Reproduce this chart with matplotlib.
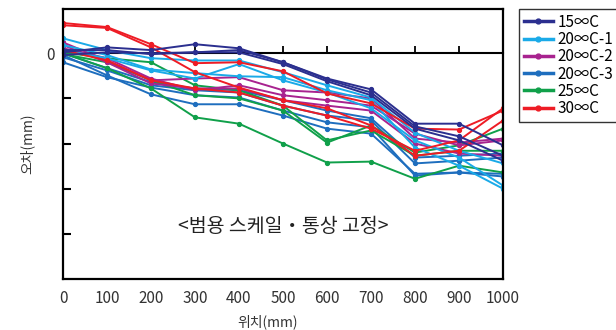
import matplotlib.pyplot as plt
from matplotlib.lines import Line2D

plt.rcParams['font.family'] = ['Noto Sans CJK KR', 'DejaVu Sans']

# positions (mm)
x = [0, 100, 200, 300, 400, 500, 600, 700, 800, 900, 1000]

# error readings, several runs per condition (y tick spacing = 1 unit)
t15 = [
    [0.02, 0.13, 0.07, 0.20, 0.11, -0.20, -0.56, -0.80, -1.56, -1.56, -2.04],
    [-0.04, 0.02, 0.00, 0.02, 0.07, -0.20, -0.58, -0.87, -1.62, -1.84, -2.27],
    [0.07, 0.07, -0.02, 0.02, 0.02, -0.24, -0.62, -0.93, -1.67, -1.93, -2.38],
]
t20_1 = [
    [0.33, 0.07, -0.11, -0.16, -0.16, -0.42, -0.71, -0.98, -1.76, -2.16, -2.44],
    [0.18, -0.04, -0.36, -0.44, -0.51, -0.53, -0.82, -1.04, -2.09, -2.49, -3.00],
    [0.07, -0.11, -0.38, -0.56, -0.24, -0.60, -0.87, -1.22, -1.93, -2.31, -2.93],
]
t20_2 = [
    [0.24, -0.16, -0.60, -0.56, -0.53, -0.82, -0.87, -1.00, -1.89, -1.98, -1.89],
    [0.18, -0.20, -0.67, -0.78, -0.78, -1.04, -1.16, -1.27, -2.00, -2.22, -2.27],
    [0.11, -0.11, -0.56, -0.82, -0.71, -0.93, -1.04, -1.16, -1.78, -2.04, -1.93],
]
t20_3 = [
    [-0.04, -0.49, -0.91, -1.13, -1.13, -1.38, -1.67, -1.78, -2.67, -2.64, -2.67],
    [-0.20, -0.53, -0.76, -0.93, -0.98, -1.27, -1.53, -1.64, -2.71, -2.64, -2.73],
    [-0.09, -0.38, -0.71, -0.82, -0.87, -1.16, -1.38, -1.49, -2.44, -2.38, -2.31],
    [0.00, -0.33, -0.64, -0.78, -0.82, -1.04, -1.27, -1.44, -2.31, -2.27, -2.22],
]
t25 = [
    [0.00, -0.33, -0.78, -1.42, -1.56, -2.00, -2.42, -2.40, -2.78, -2.49, -2.64],
    [-0.02, -0.20, -0.60, -0.93, -1.00, -1.27, -1.98, -1.60, -2.20, -2.04, -1.67],
    [0.02, -0.11, -0.20, -0.71, -0.82, -1.16, -1.93, -1.71, -2.27, -2.16, -2.16],
]
t30 = [
    [0.67, 0.58, 0.20, -0.22, -0.20, -0.40, -0.89, -1.11, -1.67, -1.69, -1.27],
    [0.62, 0.56, 0.13, -0.42, -0.76, -1.04, -1.22, -1.60, -2.27, -2.16, -1.49],
    [0.07, -0.16, -0.60, -0.78, -0.87, -1.16, -1.38, -1.67, -2.16, -1.93, -1.22],
]

labels = ['15∞C', '20∞C-1', '20∞C-2', '20∞C-3', '25∞C', '30∞C']
colors = ['#2B2F8F', '#1AAAE8', '#A8238F', '#1E6EBE', '#10A04A', '#EE1C25']
groups = [t15, t20_1, t20_2, t20_3, t25, t30]

fig = plt.figure(figsize=(6.16, 3.30), dpi=100)
ax = fig.add_axes([63/616, 1 - 279/330, 440/616, 270/330])

# draw back to front
order = [3, 4, 2, 1, 5, 0]
for i in order:
    for run in groups[i]:
        ax.plot(x, run, color=colors[i], lw=1.4, marker='o', ms=2.8)

ax.set_xlim(0, 1000)
ax.set_ylim(-5, 0.98)
ax.set_xticks(x)
ax.set_xticklabels([str(v) for v in x], fontsize=11, color='#333333')
ax.tick_params(axis='x', length=0, pad=8)
ax.set_yticks([0, -1, -2, -3, -4])
ax.set_yticklabels(['0', '', '', '', ''], fontsize=11, color='#333333')
ax.tick_params(axis='y', direction='in', length=6, width=1.5, pad=6)
for s in ax.spines.values():
    s.set_linewidth(1.6)

# axis line at zero with ticks pointing up
sec = ax.secondary_xaxis(5 / 5.98)
sec.set_xticks(x[1:-1])
sec.tick_params(direction='out', length=5, width=1.3, labeltop=False, labelbottom=False)
sec.spines['top'].set_linewidth(1.5)

ax.set_xlabel('위치(mm)', fontsize=10, color='#333333')
ax.xaxis.set_label_coords(0.466, -0.13)
ax.set_ylabel('오차(mm)', fontsize=10, color='#333333')
ax.yaxis.set_label_coords(-0.066, 0.5)

ax.text(0.5, 0.193, '<범용 스케일・통상 고정>', transform=ax.transAxes,
        ha='center', va='center', fontsize=14, color='#222222')

handles = [Line2D([], [], color=c, lw=2.5, marker='o', ms=3.5) for c in colors]
leg = fig.legend(handles, labels, loc='upper left', bbox_to_anchor=(519/616, 1 - 9/330),
                 fontsize=11, frameon=True, fancybox=False, edgecolor='black',
                 handlelength=1.9, handletextpad=0.3, labelspacing=0.02,
                 borderpad=0.3, borderaxespad=0)
leg.get_frame().set_linewidth(1.0)

fig.savefig('out.png', dpi=100)
